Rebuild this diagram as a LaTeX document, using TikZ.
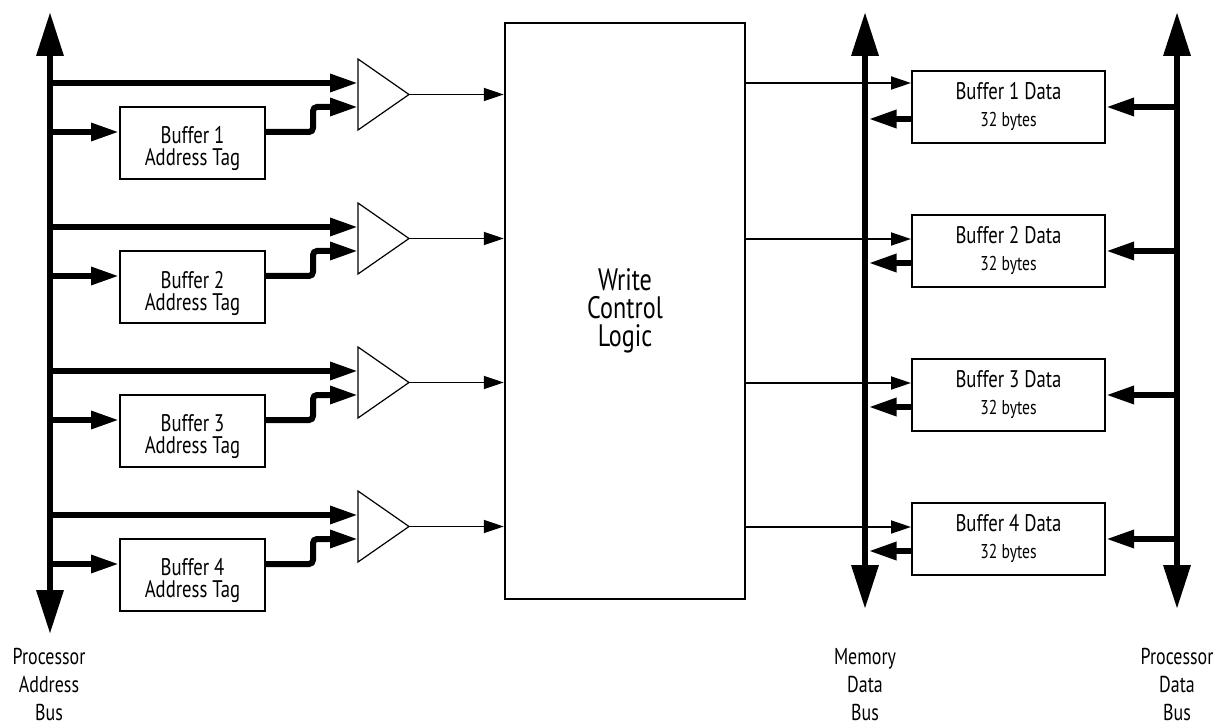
\documentclass[tikz,border=0pt]{standalone}
\usepackage{fontspec}
\setmainfont[FakeStretch=0.78]{PT Sans}
\usetikzlibrary{arrows.meta,calc}
\begin{document}
\begin{tikzpicture}[x=1pt,y=-1pt,
  bus/.style={line width=6.5pt,{Triangle[length=44pt,width=26pt]}-{Triangle[length=44pt,width=26pt]}},
  fat/.style={line width=6pt,-{Triangle[length=28pt,width=17pt]}},
  slim/.style={line width=1.8pt,-{Triangle[length=20pt,width=13pt]}},
  abox/.style={draw,line width=2pt,minimum width=145pt,minimum height=72pt,inner sep=0pt},
  atxt/.style={inner sep=0pt,align=center,font=\fontsize{24}{22}\selectfont},
  dbox/.style={draw,line width=2pt,minimum width=193pt,minimum height=72pt,inner sep=0pt,align=center,font=\fontsize{24}{27}\selectfont},
  amp/.style={draw,line width=1.2pt,line join=miter},
  lbl/.style={inner sep=0pt,align=center,font=\fontsize{23}{28}\selectfont}
]
\useasboundingbox (0,0) rectangle (1223,727);

% buses
\coordinate (patop) at (50,12);
\coordinate (pabot) at (50,634);
\coordinate (mbtop) at (865,12);
\coordinate (mbbot) at (865,609);
\coordinate (pdtop) at (1177,12);
\coordinate (pdbot) at (1177,609);
\draw[bus] (patop) -- (pabot);
\draw[bus] (mbtop) -- (mbbot);
\draw[bus] (pdtop) -- (pdbot);

% write control logic
\node[draw,line width=2.5pt,minimum width=240pt,minimum height=576pt,inner sep=0pt,
      align=center,font=\fontsize{31}{28}\selectfont] (wcl) at (625,311) {Write\\Control\\Logic};

\foreach \k/\ty in {1/83,2/239,3/383,4/527}{
  \pgfmathsetmacro\yo{144*(\k-1)}
  % left side
  \coordinate (pb\k a) at (50,{83+\yo});
  \coordinate (pb\k b) at (50,{132+\yo});
  \node[abox] (ab\k) at (192.5,{143+\yo}) {};
  \node[atxt] (at\k) at (192.5,{149+\yo}) {Buffer \k\\Address Tag};
  \coordinate (in\k a) at (358,{83+\yo});
  \coordinate (in\k b) at (358,{107+\yo});
  \coordinate (out\k) at (409,{94.5+\yo});
  \draw[amp] (358,{59+\yo}) -- (358,{130+\yo}) -- (out\k) -- cycle;
  \draw[fat] (pb\k a) -- (in\k a);
  \draw[fat] (pb\k b) -- (ab\k.west |- pb\k b);
  \draw[fat,rounded corners=4pt] (ab\k.east |- pb\k b) -- ++(47,0) |- (in\k b);
  \draw[slim] (out\k) -- (out\k -| wcl.west);
  % right side
  \node[dbox] (db\k) at (1008.5,{107+\yo}) {Buffer \k{} Data\\{\fontsize{20}{27}\selectfont 32 bytes}};
  \coordinate (r\k) at (0,\ty);
  \draw[slim] (wcl.east |- r\k) -- (db\k.west |- r\k);
  \coordinate (mb\k) at (868.5,{119+\yo});
  \draw[fat] (db\k.west |- mb\k) -- (mb\k);
  \coordinate (pd\k) at (1177,{107+\yo});
  \draw[fat] (pd\k) -- (db\k.east);
}

% bus labels
\node[lbl,anchor=north] (lpa) at (49,648) {Processor\\Address\\Bus};
\node[lbl,anchor=north] (lmd) at (865,648) {Memory\\Data\\Bus};
\node[lbl,anchor=north] (lpd) at (1177,648) {Processor\\Data\\Bus};
\end{tikzpicture}
\end{document}
